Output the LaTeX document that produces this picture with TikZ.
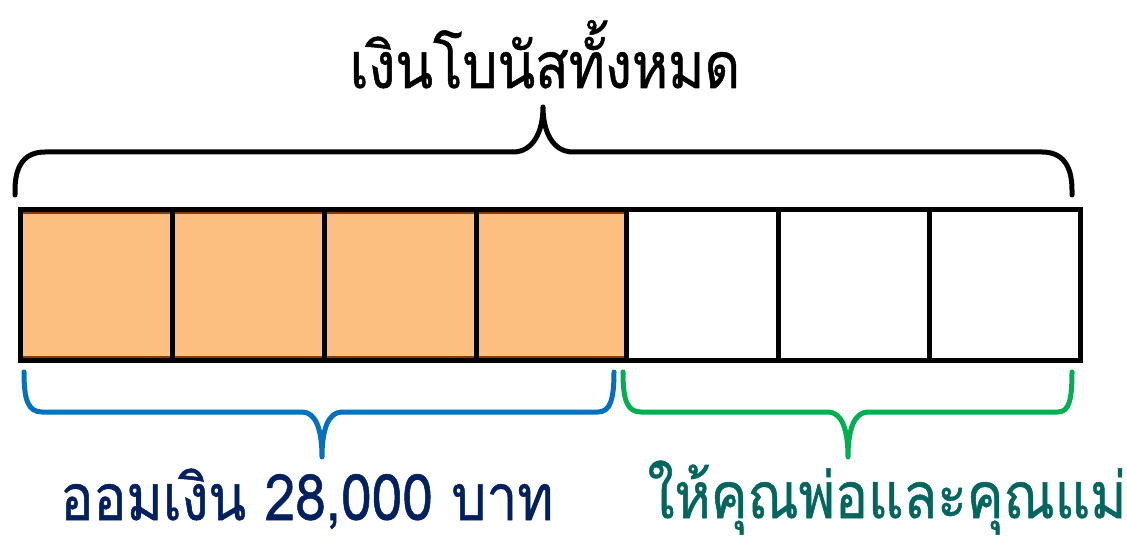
\documentclass[tikz,border=0pt]{standalone}
\usepackage{fontspec}
\newfontfamily\thaifont[Script=Thai, FakeStretch=0.86, FakeBold=0.8]{Loma}
\definecolor{cellorange}{RGB}{252,191,128}
\definecolor{cellbrown}{RGB}{132,60,12}
\definecolor{braceblue}{RGB}{0,112,192}
\definecolor{bracegreen}{RGB}{0,176,80}
\definecolor{textnavy}{RGB}{0,32,96}
\definecolor{textteal}{RGB}{0,102,94}
\tikzset{
  cellline/.style={line width=5pt, black},
  bracepath/.style={line width=5pt, line cap=round, line join=round},
  label/.style={anchor=base, inner sep=0pt, font=\thaifont\fontsize{64}{74}\selectfont}
}
\begin{document}
\begin{tikzpicture}[x=1pt,y=-1pt]
\useasboundingbox (0,0) rectangle (1127,537);
% orange cells
\fill[cellorange] (20,210) rectangle (626,360);
\draw[cellbrown, line width=1.5pt] (22,213) rectangle (626,357);
% outer bar and dividers
\draw[cellline] (20,210) rectangle (1080,360);
\foreach \x in {172,324,476,626,778,929}
  \draw[cellline] (\x,210) -- (\x,360);
% top brace
\draw[bracepath, black] (15,195) -- (15,190) .. controls (15,165) and (25,152) .. (45,152) -- (513,152)
  .. controls (533,152) and (543,132) .. (543,107)
  .. controls (543,132) and (553,152) .. (573,152) -- (1042,152)
  .. controls (1062,152) and (1072,165) .. (1072,190) -- (1072,195);
% blue brace
\draw[bracepath, braceblue] (24,372) .. controls (24,400) and (28,412) .. (42,412) -- (302,412)
  .. controls (316,412) and (322,430) .. (322,457)
  .. controls (322,430) and (328,412) .. (342,412) -- (598,412)
  .. controls (610,412) and (614,400) .. (614,372);
% green brace
\draw[bracepath, bracegreen] (623,372) .. controls (623,400) and (627,412) .. (641,412) -- (828,412)
  .. controls (842,412) and (848,430) .. (848,457)
  .. controls (848,430) and (854,412) .. (868,412) -- (1058,412)
  .. controls (1069,412) and (1072,400) .. (1072,372);
% labels
\node[label, text=black] (title) at (545,88) {เงินโบนัสทั้งหมด};
\node[label, text=textnavy] (save) at (307,520) {ออมเงิน 28,000 บาท};
\node[label, text=textteal] (parents) at (887,518) {ให้คุณพ่อและคุณแม่};
\end{tikzpicture}
\end{document}
